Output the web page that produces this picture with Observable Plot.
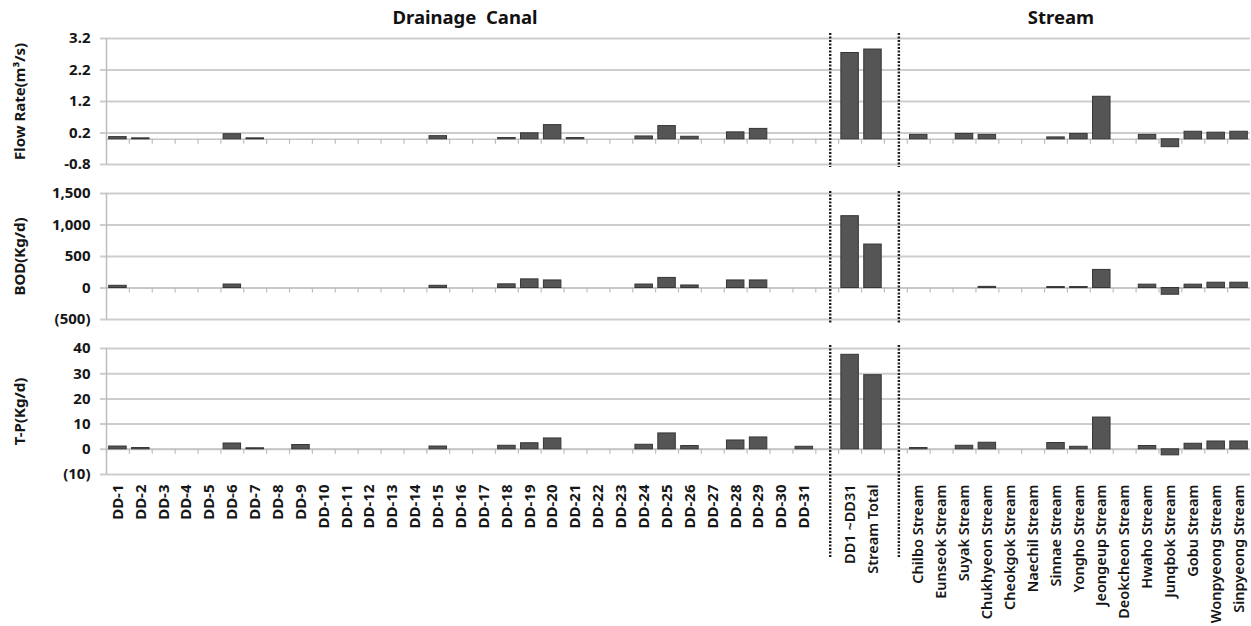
<!DOCTYPE html>
<html><head><meta charset="utf-8">
<script src="https://cdn.jsdelivr.net/npm/d3@7"></script>
<script src="https://cdn.jsdelivr.net/npm/@observablehq/plot@0.6"></script>
<style>
body{margin:0;background:#fff;font-family:"Noto Sans",sans-serif;}
#wrap{position:relative;width:1251px;height:626px;overflow:hidden;background:#fff}
.title{position:absolute;top:4px;font-weight:bold;font-size:18.5px;transform:translateX(-50%);color:#111;white-space:nowrap}
.panel{position:absolute;left:0}
</style></head><body><div id="wrap">
<div class="title" style="left:465px">Drainage&nbsp; Canal</div>
<div class="title" style="left:1061px">Stream</div>
</div>
<script>
// ---- categories ----
const drainCats = Array.from({length: 31}, (_, i) => `DD-${i + 1}`);
const totalCats = ["DD1 ~DD31", "Stream Total"];
const streamCats = ["Chilbo Stream", "Eunseok Stream", "Suyak Stream", "Chukhyeon Stream", "Cheokgok Stream",
  "Naechil Stream", "Sinnae Stream", "Yongho Stream", "Jeongeup Stream", "Deokcheon Stream",
  "Hwaho Stream", "Junqbok Stream", "Gobu Stream", "Wonpyeong Stream", "Sinpyeong Stream"];
const gapCats = ["gap-a", "gap-b"];
const categories = [...drainCats, gapCats[0], ...totalCats, gapCats[1], ...streamCats];

// ---- values ----
// Flow Rate (m3/s)
const flowDrain = [0.07, 0.03, 0, 0, 0, 0.16, 0.03, 0, 0, 0, 0, 0, 0, 0, 0.10, 0, 0, 0.04, 0.19, 0.45,
  0.04, 0, 0, 0.09, 0.42, 0.08, 0, 0.22, 0.33, 0, 0];
const flowTotal = [2.74, 2.85];
const flowStream = [0.14, 0, 0.17, 0.14, 0, 0, 0.06, 0.17, 1.35, 0, 0.14, -0.25, 0.24, 0.21, 0.24];
// BOD (Kg/d)
const bodDrain = [35, 0, 0, 0, 0, 55, 0, 0, 0, 0, 0, 0, 0, 0, 35, 0, 0, 58, 137, 120,
  0, 0, 0, 55, 160, 40, 0, 120, 120, 0, 0];
const bodTotal = [1140, 690];
const bodStream = [0, 0, 0, 18, 0, 0, 15, 15, 287, 0, 53, -107, 53, 84, 84];
// T-P (Kg/d)
const tpDrain = [1.1, 0.5, 0, 0, 0, 2.3, 0.4, 0, 1.7, 0, 0, 0, 0, 0, 1.1, 0, 0, 1.4, 2.4, 4.3,
  0, 0, 0, 1.8, 6.3, 1.3, 0, 3.5, 4.7, 0, 1.0];
const tpTotal = [37.5, 29.4];
const tpStream = [0.5, 0, 1.4, 2.6, 0, 0, 2.5, 1.0, 12.6, 0, 1.3, -2.4, 2.2, 3.1, 3.1];

// ---- axis ticks ----
const flowTicks = [-0.8, 0.2, 1.2, 2.2, 3.2];
const bodTicks = [-500, 0, 500, 1000, 1500];
const tpTicks = [-10, 0, 10, 20, 30, 40];

// ---- table ----
function series(d, t, s) { return [...d, null, ...t, null, ...s]; }
const flowAll = series(flowDrain, flowTotal, flowStream);
const bodAll = series(bodDrain, bodTotal, bodStream);
const tpAll = series(tpDrain, tpTotal, tpStream);
const rows = categories.map((cat, i) => ({cat, flow: flowAll[i], bod: bodAll[i], tp: tpAll[i]}));

const W = 1251, ML = 106, MR = 1, MT = 10, PH = 126;
const step = (W - ML - MR) / categories.length;
const paren = (f) => (d) => d < 0 ? `(${f(-d)})` : f(d);
const fmtComma = d3.format(",");

function panel({key, domain, ticks, fmt, label, top, mb, dotTop, dotBottom, showX}) {
  const marks = [
    Plot.ruleY(ticks, {stroke: "#cdcdcd", strokeWidth: 2, insetLeft: -6}),
    Plot.ruleY([0], {stroke: "#c4c4c4", strokeWidth: 1.5}),
    Plot.ruleX(categories, {x: d => d, y1: () => 0, y2: () => 0, insetBottom: -5, dx: -step / 2, stroke: "#bdbdbd", strokeWidth: 1.2}),
    Plot.ruleX([categories[0]], {x: d => d, dx: -step / 2, stroke: "#bdbdbd", strokeWidth: 1.5}),
    Plot.barY(rows.filter(r => r[key] != null && r[key] !== 0), {
      x: "cat", y: key, fill: "#555555", stroke: "#363636", strokeWidth: 1, insetLeft: 2.7, insetRight: 2.7
    }),
    Plot.ruleX(gapCats, {x: d => d, stroke: "#1e1e1e", strokeWidth: 2.4, strokeDasharray: "2,1.5",
      insetTop: dotTop, insetBottom: dotBottom, dx: 3}),
    Plot.axisY({ticks, tickFormat: fmt, tickSize: 0, tickPadding: 16, label, labelAnchor: "center",
      labelOffset: 92, labelArrow: "none", fontWeight: "bold", fontSize: 15})
  ];
  if (showX) {
    marks.push(Plot.axisX(drainCats, {tickSize: 0, tickPadding: 10, tickRotate: -90, fontWeight: "bold", fontSize: 15, label: null}));
    marks.push(Plot.axisX([...totalCats, ...streamCats], {tickSize: 0, tickPadding: 10, tickRotate: -90, fontWeight: 600, fontSize: 14.5, label: null}));
  }
  const svg = Plot.plot({
    width: W, height: MT + PH + mb,
    marginLeft: ML, marginRight: MR, marginTop: MT, marginBottom: mb,
    style: {fontFamily: "Noto Sans, sans-serif", color: "#161616", background: "transparent", overflow: "visible"},
    x: {type: "band", domain: categories, padding: 0, axis: showX ? undefined : null, label: null},
    y: {domain, axis: null},
    marks
  });
  svg.classList.add("panel");
  svg.style.top = top + "px";
  document.getElementById("wrap").appendChild(svg);
}

panel({key: "flow", domain: [-0.8, 3.2], ticks: flowTicks, fmt: d => d.toFixed(1), label: "Flow Rate(m³/s)",
  top: 28.3, mb: 10, dotTop: -5, dotBottom: -3, showX: false});
panel({key: "bod", domain: [-500, 1500], ticks: bodTicks, fmt: paren(fmtComma), label: "BOD(Kg/d)",
  top: 182.7, mb: 10, dotTop: -2, dotBottom: -4, showX: false});
panel({key: "tp", domain: [-10, 40], ticks: tpTicks, fmt: paren(d => String(d)), label: "T-P(Kg/d)",
  top: 337.7, mb: 150, dotTop: -3, dotBottom: -83, showX: true});
</script>
</body></html>
